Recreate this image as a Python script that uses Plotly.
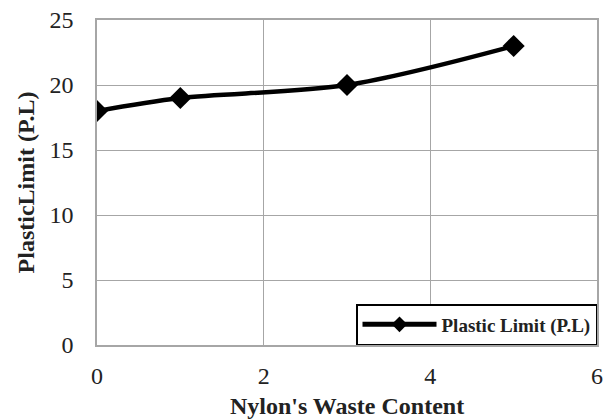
import plotly.graph_objects as go

waste_content = [0, 1, 3, 5]
plastic_limit = [18, 19, 20, 23]
series_name = "<b>Plastic Limit (P.L)</b>"

FONT = "Liberation Serif, Times New Roman, serif"
GRID = "#a6a6a6"

fig = go.Figure()
fig.add_trace(go.Scatter(
    x=waste_content, y=plastic_limit, name=series_name,
    mode="lines+markers",
    line=dict(color="black", width=4.5, shape="spline", smoothing=0.9),
    marker=dict(symbol="diamond", size=17, color="black"),
))

# page body adds 8px offset, so the figure is 8px smaller on each axis
fig.update_layout(
    width=603, height=411,
    paper_bgcolor="white", plot_bgcolor="white",
    margin=dict(l=89, r=14, t=12, b=74, autoexpand=False),
    font=dict(family=FONT, size=24, color="#222"),
    showlegend=True,
    legend=dict(x=1, y=0, xanchor="right", yanchor="bottom",
                bordercolor="black", borderwidth=1.5, bgcolor="white",
                font=dict(size=19, color="#222"),
                itemwidth=74, itemsizing="constant", tracegroupgap=0),
)
fig.update_xaxes(
    range=[0, 6], dtick=2, showgrid=True, gridcolor=GRID, gridwidth=1,
    showline=True, linecolor=GRID, linewidth=1.5, mirror=True,
    zeroline=False, ticks="", automargin=False, ticklabelstandoff=8,
    ticklabeloverflow="allow",
    title=dict(text="<b>Nylon's Waste Content</b>", standoff=12, font=dict(size=24)),
)
fig.update_yaxes(
    range=[0, 25], dtick=5, showgrid=True, gridcolor=GRID, gridwidth=1,
    showline=True, linecolor=GRID, linewidth=1.5, mirror=True,
    zeroline=False, ticks="", ticklabelstandoff=17, automargin=False,
    ticklabeloverflow="allow",
    title=dict(text="<b>PlasticLimit (P.L)</b>", standoff=8, font=dict(size=24)),
)

fig.write_html("out.html")
